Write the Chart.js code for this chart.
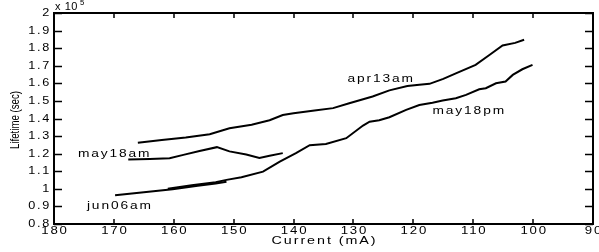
<!DOCTYPE html>
<html>
<head>
<meta charset="utf-8">
<script src="https://cdn.jsdelivr.net/npm/chart.js@4/dist/chart.umd.min.js"></script>
<style>
    html, body { margin: 0; padding: 0; background: #fff; }
    #wrap { width: 599px; height: 252px; position: relative; }
</style>
</head>
<body>
<div id="wrap"><canvas id="lifetimeChart"></canvas></div>
<script>
// beam lifetime (units of 1e5 s) against stored current (mA)
const apr13amCurrent = [166.0, 162, 158, 154, 150.7, 147, 144, 141.8, 140, 136.5, 133.4, 130.7, 126.8, 124, 121, 119, 117.3, 115, 112.9, 109.6, 107.3, 105.1, 103, 101.5];
const apr13amLifetime = [1.262, 1.278, 1.292, 1.31, 1.345, 1.365, 1.39, 1.42, 1.43, 1.445, 1.459, 1.487, 1.525, 1.56, 1.585, 1.592, 1.597, 1.625, 1.657, 1.705, 1.761, 1.815, 1.83, 1.848];

const may18pmCurrent = [161, 157, 153, 151.2, 148.7, 145.1, 142.3, 139.6, 137.3, 134.6, 131.2, 128.4, 127.3, 125.7, 124, 121.2, 119, 116.8, 115.1, 112.9, 111.2, 109, 107.9, 106.2, 104.6, 103.4, 101.8, 100.1];
const may18pmLifetime = [1.0, 1.02, 1.038, 1.051, 1.066, 1.098, 1.155, 1.203, 1.248, 1.255, 1.288, 1.36, 1.382, 1.39, 1.407, 1.449, 1.477, 1.49, 1.502, 1.515, 1.534, 1.566, 1.572, 1.6, 1.61, 1.648, 1.68, 1.705];

const may18amCurrent = [167.6, 164, 160.7, 158.4, 155.7, 152.8, 150.7, 147.9, 145.7, 144, 141.8];
const may18amLifetime = [1.167, 1.17, 1.174, 1.193, 1.215, 1.237, 1.213, 1.195, 1.176, 1.188, 1.203];

const jun06amCurrent = [169.8, 165, 160.2, 156, 153, 151.2];
const jun06amLifetime = [0.964, 0.98, 0.998, 1.017, 1.03, 1.04];

const seriesNames = ["apr13am", "may18pm", "may18am", "jun06am"];
const labelCurrent = [131, 116.8, 176, 174.5];
const labelLifetime = [1.625, 1.44, 1.2, 0.903];

const xTicks = [180, 170, 160, 150, 140, 130, 120, 110, 100, 90];
const yTicks = [2, 1.9, 1.8, 1.7, 1.6, 1.5, 1.4, 1.3, 1.2, 1.1, 1, 0.9, 0.8];

const FONT = '"Liberation Sans", Arial, Helvetica, sans-serif';

function toPoints(xs, ys) {
    return xs.map((x, i) => ({ x: x, y: ys[i] }));
}

function curve(label, xs, ys) {
    return {
        label: label,
        data: toPoints(xs, ys),
        borderColor: "#000",
        borderWidth: 2,
        pointRadius: 0,
        tension: 0,
        fill: false
    };
}

// the original text is wide and loosely spaced
function wideText(ctx, text, x, y, align, size, sx, spacing) {
    ctx.save();
    ctx.font = size + "px " + FONT;
    ctx.letterSpacing = spacing + "px";
    ctx.textAlign = align;
    ctx.textBaseline = "middle";
    ctx.translate(x, y);
    ctx.scale(sx, 1);
    ctx.fillText(text, 0, 0);
    ctx.restore();
}

const matlabAxes = {
    id: "matlabAxes",
    beforeDraw(chart) {
        const ctx = chart.ctx;
        ctx.save();
        ctx.fillStyle = "#fff";
        ctx.fillRect(0, 0, chart.width, chart.height);
        ctx.restore();
    },
    afterDraw(chart) {
        const ctx = chart.ctx;
        const area = chart.chartArea;
        const xs = chart.scales.x;
        const ys = chart.scales.y;

        ctx.save();
        ctx.strokeStyle = "#000";
        ctx.fillStyle = "#000";
        ctx.lineWidth = 2;
        ctx.strokeRect(area.left, area.top, area.right - area.left, area.bottom - area.top);

        ctx.lineWidth = 1.5;
        ctx.beginPath();
        xs.ticks.forEach(t => {
            const px = Math.round(xs.getPixelForValue(t.value));
            ctx.moveTo(px, area.bottom);
            ctx.lineTo(px, area.bottom - 5);
            ctx.moveTo(px, area.top);
            ctx.lineTo(px, area.top + 5);
        });
        ys.ticks.forEach(t => {
            const py = Math.round(ys.getPixelForValue(t.value)) + 0.5;
            ctx.moveTo(area.left, py);
            ctx.lineTo(area.left + 8, py);
            ctx.moveTo(area.right, py);
            ctx.lineTo(area.right - 8, py);
        });
        ctx.stroke();

        xs.ticks.forEach(t => {
            wideText(ctx, String(t.value), xs.getPixelForValue(t.value) + 1, area.bottom + 7, "center", 11, 1.2, 1.5);
        });
        ys.ticks.forEach(t => {
            wideText(ctx, String(+t.value.toFixed(1)), area.left - 3, ys.getPixelForValue(t.value), "right", 11, 1.15, 1.5);
        });

        wideText(ctx, "Current (mA)", (area.left + area.right) / 2 + 1, area.bottom + 17, "center", 11, 1.3, 1.5);
        wideText(ctx, "x 10", area.left + 1, 7, "left", 10, 1.1, 0.5);
        wideText(ctx, "5", area.left + 26, 3, "left", 7, 1.1, 0);

        ctx.save();
        ctx.translate(16, 120);
        ctx.rotate(-Math.PI / 2);
        ctx.scale(0.88, 1.1);
        ctx.font = "11px " + FONT;
        ctx.textAlign = "center";
        ctx.textBaseline = "middle";
        ctx.fillText("Lifetime (sec)", 0, 0);
        ctx.restore();

        seriesNames.forEach((name, i) => {
            wideText(ctx, name, xs.getPixelForValue(labelCurrent[i]), ys.getPixelForValue(labelLifetime[i]), "left", 11, 1.25, 1.5);
        });
        ctx.restore();
    }
};

const lifetimeChart = new Chart(document.getElementById("lifetimeChart"), {
    type: "line",
    data: {
        datasets: [
            curve(seriesNames[0], apr13amCurrent, apr13amLifetime),
            curve(seriesNames[1], may18pmCurrent, may18pmLifetime),
            curve(seriesNames[2], may18amCurrent, may18amLifetime),
            curve(seriesNames[3], jun06amCurrent, jun06amLifetime)
        ]
    },
    options: {
        responsive: true,
        maintainAspectRatio: false,
        animation: false,
        layout: {
            padding: { top: 13, right: 6, left: 0, bottom: 0 }
        },
        plugins: {
            legend: { display: false },
            tooltip: { enabled: false }
        },
        scales: {
            x: {
                type: "linear",
                reverse: true,
                min: 90,
                max: 180,
                afterBuildTicks(scale) {
                    scale.ticks = xTicks.map(v => ({ value: v }));
                },
                afterFit(scale) {
                    scale.height = 28;
                },
                ticks: { display: false },
                grid: { display: false },
                border: { display: false }
            },
            y: {
                type: "linear",
                min: 0.8,
                max: 2,
                afterBuildTicks(scale) {
                    scale.ticks = yTicks.map(v => ({ value: v }));
                },
                afterFit(scale) {
                    scale.width = 54;
                },
                ticks: { display: false },
                grid: { display: false },
                border: { display: false }
            }
        }
    },
    plugins: [matlabAxes]
});
</script>
</body>
</html>
